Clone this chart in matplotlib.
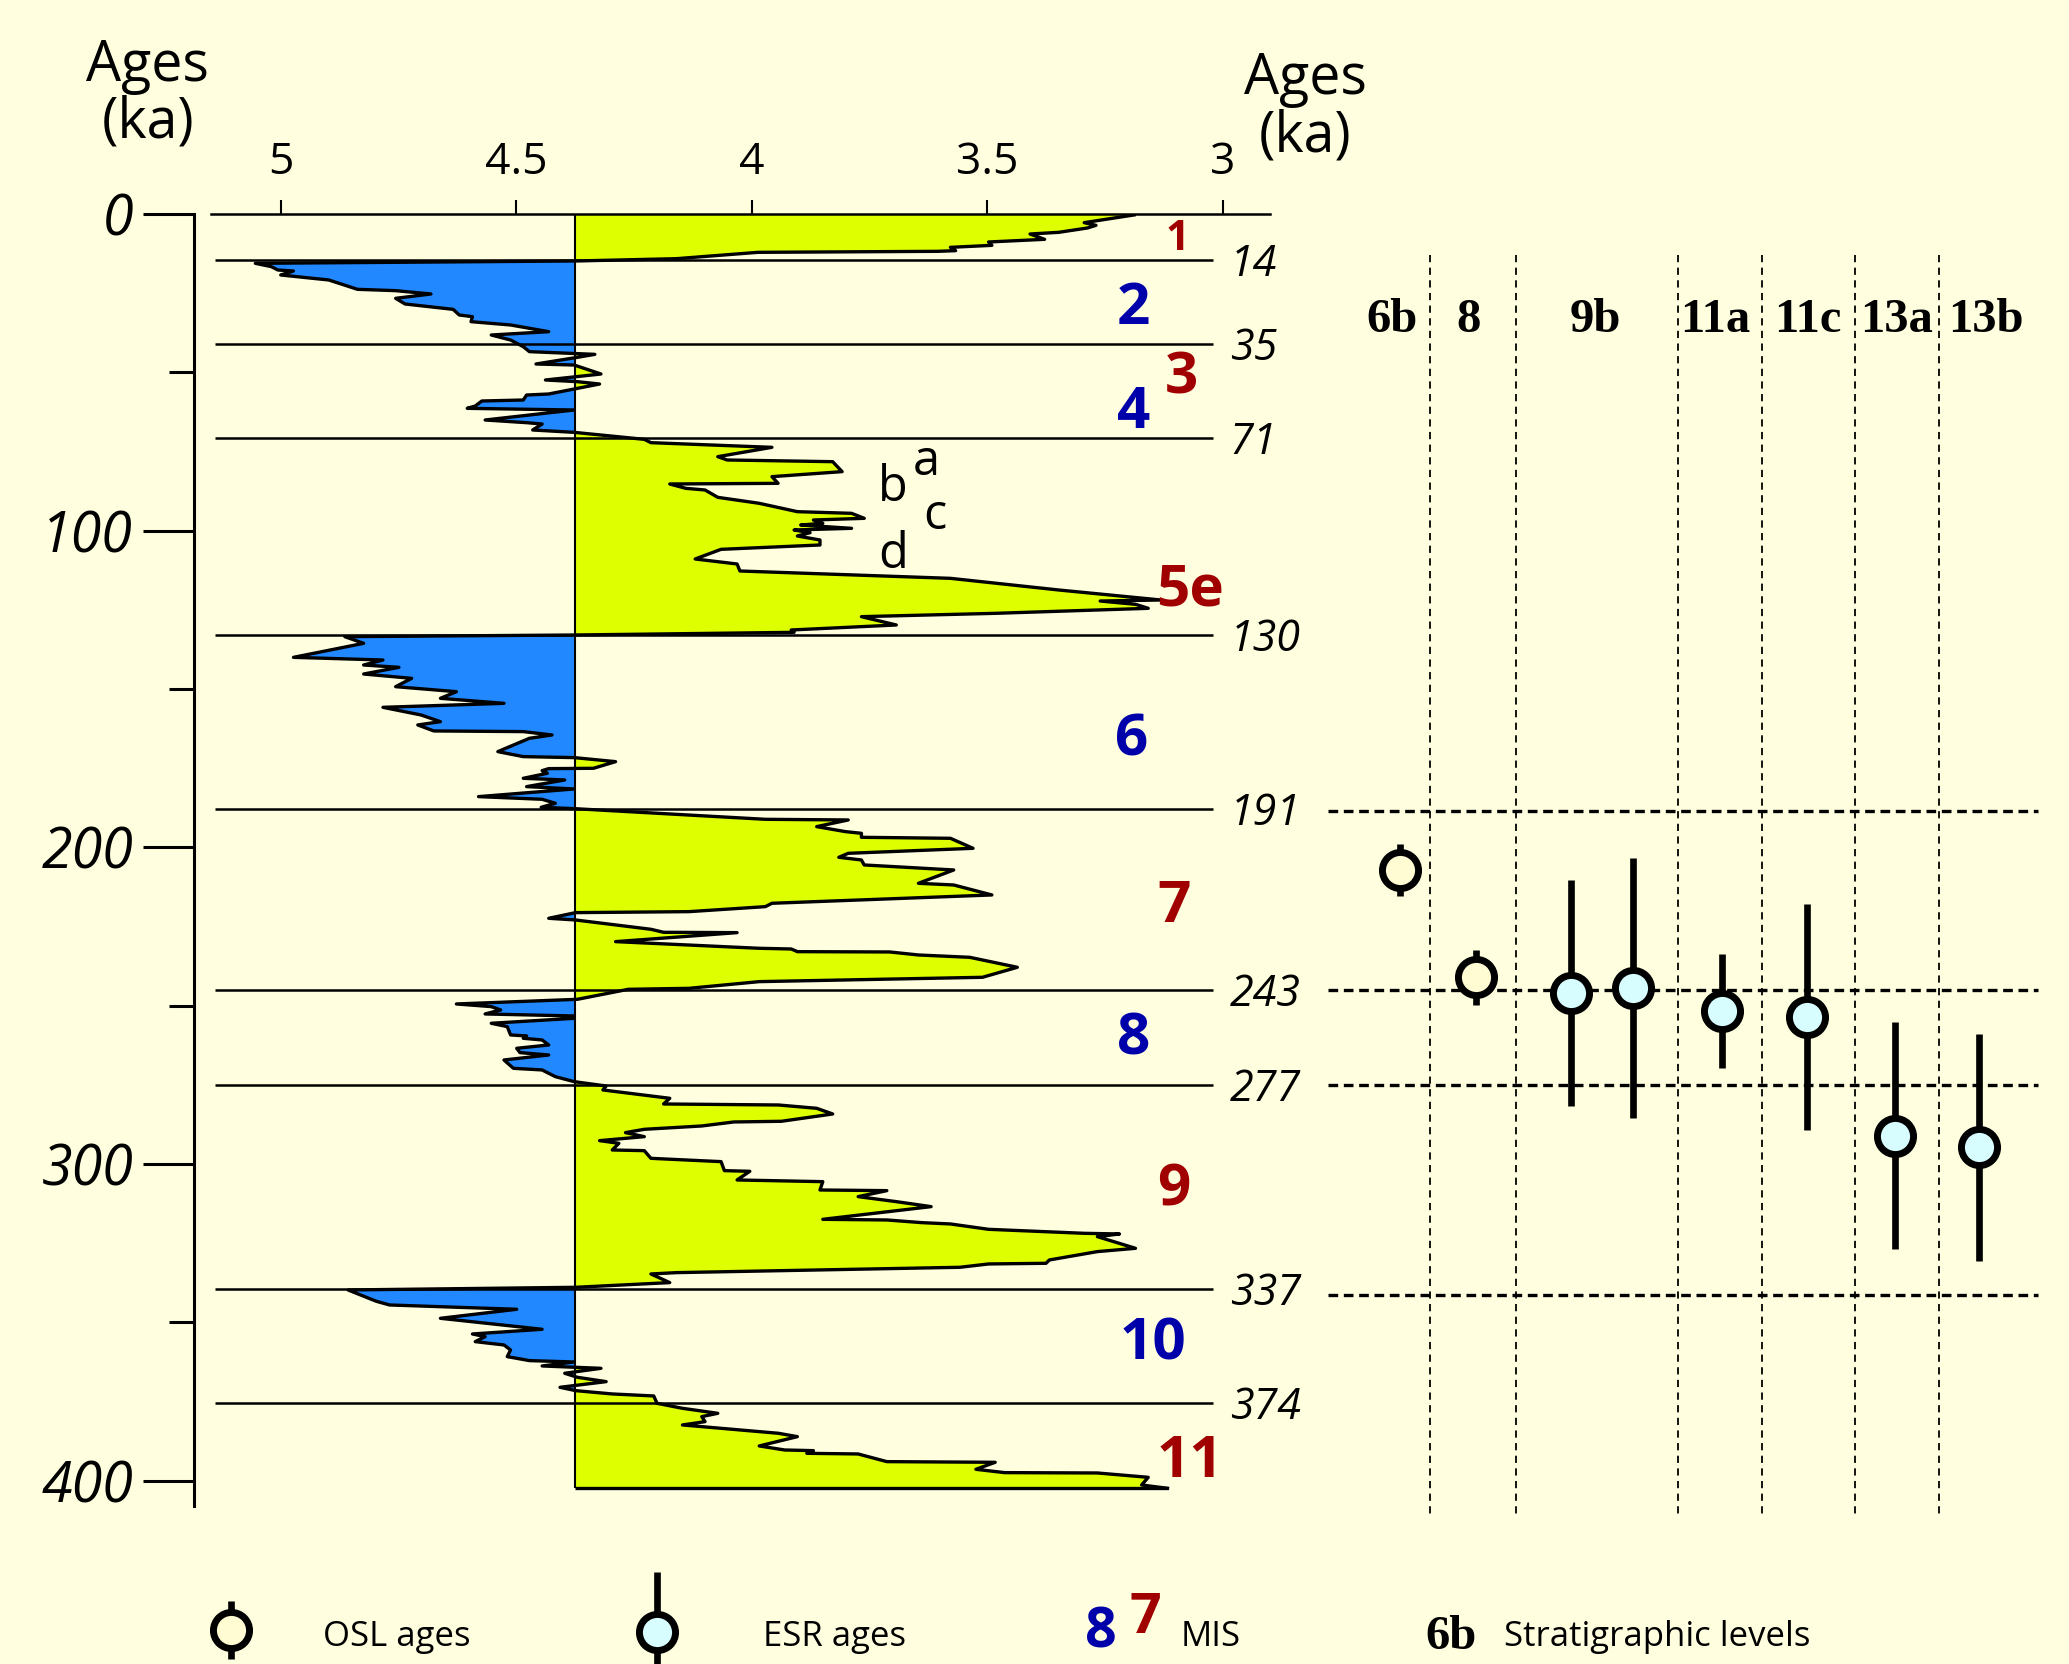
# benthic d18O stack (MIS 1-11) with OSL / ESR ages of the stratigraphic levels
import numpy as np
import matplotlib.pyplot as plt
from matplotlib.ticker import MultipleLocator

plt.rcParams['font.family'] = ['Open Sans', 'DejaVu Sans']

BG = '#ffffe0'
YELLOW = '#ddff00'
BLUE = '#2288ff'
RED = '#a00000'
NAVY = '#0000aa'
OSL_FACE = '#fffbd2'
ESR_FACE = '#d8fdff'

# curve: age (ka) and d18O (permil)
age = [0.3, 2.74, 3.58, 4.42, 5.79, 6.32, 8.00, 8.32, 8.84, 9.90, 10.53, 11.58, 11.79, 12.11, 14.11, 14.84,
       15.58, 16.63, 17.69, 18.0, 19.26, 20.84, 23.79, 24.21, 25.26, 26.63, 28.42, 30.11, 31.89, 32.42, 34.0,
       35.05, 37.16, 38.21, 39.79, 41.9, 43.47, 44.32, 45.26, 47.37, 47.69, 50.53, 52.42, 52.95, 53.69, 55.05,
       56.84, 57.16, 58.74, 59.05, 60.63, 61.37, 61.89, 65.05, 65.9, 66.32, 68.21, 68.95,
       71.16, 72.21, 73.68, 76.63, 77.68, 78.21, 81.36, 82.94, 85.05, 85.26, 86.63, 87.15, 89.47, 91.36, 94.0,
       94.52, 96.1, 96.63, 97.68, 98.21, 99.26, 99.78, 100.63, 101.68, 102.94, 104.52, 105.89, 108.94, 110.52,
       112.73, 115.05, 118.73, 121.89, 122.21, 123.26, 124.52, 126.1, 127.15, 129.78, 131.36, 132.1, 132.94,
       133.47, 135.57, 140.0, 140.84, 142.42, 143.15, 145.26, 146.63, 149.26, 150.84, 152.94, 154.52, 155.78,
       158.2, 160.31, 161.35, 163.24, 163.45, 164.51, 165.56, 169.77, 171.35, 171.66, 172.93, 175.03, 175.14,
       175.77, 176.61, 178.19, 178.72, 180.82, 181.56, 183.98, 184.82, 186.08, 187.35, 187.77,
       191.14, 191.35, 193.45, 195.03, 195.56, 196.82, 197.14, 200.3, 201.88, 203.14, 203.98, 205.56, 207.14,
       211.35, 211.88, 215.03, 217.66, 218.72, 220.3, 220.61, 222.4, 222.93, 225.87, 226.82, 226.93, 229.77,
       231.87, 232.09, 232.93, 233.03, 233.98, 234.72, 237.87, 241.03, 242.4, 244.51, 244.82, 247.98,
       249.45, 250.29, 251.34, 252.61, 253.24, 253.98, 255.55, 256.61, 259.24, 259.55, 260.29, 260.82, 262.4,
       263.45, 264.82, 265.56, 267.14, 269.77, 270.29, 272.4, 273.98,
       275.35, 276.61, 279.24, 281.03, 281.35, 282.4, 284.19, 286.5, 286.71, 287.98, 289.03, 290.08, 291.35,
       292.61, 293.45, 295.56, 295.77, 298.19, 299.24, 302.08, 302.29, 305.03, 305.56, 308.19, 308.4, 310.29,
       311.87, 313.45, 317.45, 317.66, 318.5, 318.92, 320.61, 321.87, 322.08, 322.92, 326.61, 327.65, 330.29,
       331.34, 331.55, 332.6, 334.29, 334.71, 337.44, 338.92,
       339.76, 343.34, 344.5, 345.86, 348.71, 352.18, 353.66, 354.5, 356.08, 357.13, 358.71, 360.81, 362.07,
       362.5, 363.76, 364.5, 366.07, 367.34, 368.71, 370.5, 371.55,
       372.6, 373.23, 375.55, 377.13, 378.71, 379.76, 381.34, 382.39, 385.02, 386.08, 389.02, 390.29, 390.5,
       391.34, 391.55, 393.97, 394.07, 394.18, 396.39, 397.44, 397.55, 398.92, 401.34, 402.39]
d18o = [3.188, 3.294, 3.269, 3.287, 3.348, 3.409, 3.378, 3.422, 3.497, 3.490, 3.578, 3.567, 3.605, 3.987, 4.160, 4.374,
        5.054, 5.020, 5.006, 4.973, 5.000, 4.898, 4.837, 4.756, 4.681, 4.756, 4.736, 4.634, 4.621, 4.593, 4.596,
        4.512, 4.431, 4.553, 4.512, 4.485, 4.472, 4.333, 4.370, 4.458, 4.377, 4.320, 4.438, 4.370, 4.323, 4.370,
        4.431, 4.478, 4.485, 4.573, 4.587, 4.604, 4.377, 4.566, 4.478, 4.445, 4.465, 4.377,
        4.228, 4.214, 3.957, 4.072, 4.052, 3.828, 3.808, 3.957, 3.944, 4.174, 4.140, 4.099, 4.072, 3.984, 3.903,
        3.788, 3.761, 3.869, 3.849, 3.896, 3.788, 3.910, 3.876, 3.903, 3.855, 3.855, 4.065, 4.120, 4.031,
        4.025, 3.578, 3.348, 3.131, 3.260, 3.185, 3.158, 3.483, 3.767, 3.693, 3.916, 3.910, 4.374,
        4.864, 4.824, 4.973, 4.783, 4.824, 4.749, 4.824, 4.722, 4.756, 4.627, 4.661, 4.526, 4.783,
        4.702, 4.661, 4.709, 4.675, 4.485, 4.424, 4.472, 4.539, 4.485, 4.377, 4.289, 4.336, 4.431,
        4.445, 4.434, 4.485, 4.397, 4.478, 4.377, 4.580, 4.445, 4.417, 4.447, 4.377,
        3.971, 3.795, 3.862, 3.801, 3.767, 3.767, 3.578, 3.530, 3.795, 3.815, 3.767, 3.761, 3.571,
        3.646, 3.571, 3.490, 3.957, 3.971, 4.133, 4.374, 4.431, 4.374, 4.214, 4.187, 4.031, 4.289,
        3.984, 3.916, 3.903, 3.707, 3.646, 3.537, 3.436, 3.510, 3.984, 4.133, 4.262, 4.370,
        4.627, 4.553, 4.533, 4.566, 4.377, 4.377, 4.553, 4.519, 4.512, 4.478, 4.485, 4.445, 4.431,
        4.499, 4.492, 4.431, 4.526, 4.506, 4.445, 4.417, 4.377,
        4.309, 4.316, 4.174, 4.187, 3.943, 3.862, 3.828, 3.937, 4.038, 4.106, 4.228, 4.268, 4.228,
        4.323, 4.282, 4.296, 4.228, 4.214, 4.065, 4.058, 4.004, 4.031, 3.849, 3.855, 3.713, 3.774,
        3.693, 3.619, 3.849, 3.713, 3.639, 3.578, 3.497, 3.294, 3.219, 3.266, 3.185, 3.266, 3.368,
        3.375, 3.497, 3.558, 4.160, 4.214, 4.174, 4.374,
        4.857, 4.797, 4.769, 4.499, 4.661, 4.445, 4.593, 4.566, 4.587, 4.526, 4.512, 4.519, 4.472,
        4.377, 4.445, 4.320, 4.397, 4.370, 4.309, 4.407, 4.374,
        4.296, 4.208, 4.201, 4.147, 4.072, 4.106, 4.099, 4.147, 3.943, 3.903, 3.984, 3.930, 3.869,
        3.883, 3.774, 3.713, 3.619, 3.483, 3.524, 3.463, 3.266, 3.158, 3.172, 3.117]
baseline = 4.375

boundary_age = [14.5, 41.2, 70.6, 133, 188, 245, 275, 339.5, 375.5]
boundary_lbl = ['14', '35', '71', '130', '191', '243', '277', '337', '374']

mis_lbl = ['1', '2', '3', '4', '5e', '6', '7', '8', '9', '10', '11']
mis_age = [8.2, 30.1, 51.8, 62.7, 118.9, 166.1, 218.7, 260.6, 308.2, 357.1, 394.0]
mis_x = [3.096, 3.190, 3.087, 3.190, 3.070, 3.193, 3.104, 3.190, 3.104, 3.149, 3.070]
mis_col = [RED, NAVY, RED, NAVY, RED, NAVY, RED, NAVY, RED, NAVY, RED]

sub_lbl = ['a', 'b', 'c', 'd']
sub_age = [78.5, 86.5, 95.6, 107.7]
sub_x = [3.63, 3.70, 3.61, 3.70]

levels = ['6b', '8', '9b', '11a', '11c', '13a', '13b']
level_x = [0.086, 0.190, 0.360, 0.523, 0.647, 0.767, 0.888]
level_sep = [0.138, 0.254, 0.472, 0.586, 0.711, 0.824]
dash_age = [188.5, 245, 275, 341.5]

osl_x = [0.097, 0.200]
osl_age = [207.1, 241.0]
osl_err = [8.3, 8.7]
esr_x = [0.328, 0.412, 0.532, 0.647, 0.765, 0.879]
esr_age = [246.0, 244.4, 251.7, 253.6, 291.0, 294.7]
esr_err = [35.7, 41.0, 18.0, 35.6, 35.8, 35.8]

fig = plt.figure(figsize=(20.69, 16.64), dpi=100, facecolor=BG)

# ---- isotope curve ----
ax = fig.add_axes([0.102, 0.0873, 0.5117, 0.7841])
ax.set_facecolor('none')
ax.set_xlim(5.148, 2.90)
ax.set_ylim(412, 0)

a = np.array(age)
v = np.array(d18o)
ax.fill_betweenx(a, v, baseline, where=v <= baseline, interpolate=True, color=YELLOW, lw=0)
ax.fill_betweenx(a, v, baseline, where=v >= baseline, interpolate=True, color=BLUE, lw=0)
ax.hlines(boundary_age, 5.14, 3.02, colors='k', lw=1.8, zorder=3)
ax.vlines(baseline, 0, a[-1], colors='k', lw=1.5, zorder=3)
ax.hlines(a[-1], baseline, v[-1], colors='k', lw=2.4, zorder=4)
ax.plot(v, a, color='k', lw=2.4, zorder=4)

for yb, lb in zip(boundary_age, boundary_lbl):
    ax.text(2.985, yb + 1.5, lb, ha='left', va='center', fontsize=31, style='italic', clip_on=False)
for lb, y, x, c in zip(mis_lbl, mis_age, mis_x, mis_col):
    ax.text(x, y, lb, ha='center', va='center', color=c, fontweight='bold',
            fontsize=30 if lb == '1' else 42, zorder=5)
for lb, y, x in zip(sub_lbl, sub_age, sub_x):
    ax.text(x, y, lb, ha='center', va='center', fontsize=35)

for s in ['right', 'bottom']:
    ax.spines[s].set_visible(False)
ax.spines['top'].set_linewidth(1.8)
ax.spines['left'].set_position(('outward', 12))
ax.spines['left'].set_bounds(0, 408)
ax.spines['left'].set_linewidth(2.2)

ax.xaxis.tick_top()
ax.set_xticks([5, 4.5, 4, 3.5, 3])
ax.set_xticklabels(['5', '4.5', '4', '3.5', '3'])
ax.tick_params(axis='x', direction='out', length=10, width=1.5, pad=11, labelsize=32)
ax.set_yticks([0, 100, 200, 300, 400])
ax.set_yticklabels(['0', '100', '200', '300', '400'], fontstyle='italic')
ax.yaxis.set_minor_locator(MultipleLocator(50))
ax.tick_params(axis='y', which='major', length=37, width=2.2, pad=7, labelsize=40)
ax.tick_params(axis='y', which='minor', length=18, width=2.2)

fig.text(0.0715, 0.943, 'Ages\n(ka)', ha='center', va='center', fontsize=40, linespacing=1.0)
fig.text(0.631, 0.935, 'Ages\n(ka)', ha='center', va='center', fontsize=40, linespacing=1.0)

# ---- ages of the stratigraphic levels ----
ax2 = fig.add_axes([0.6419, 0.0873, 0.3581, 0.7841], sharey=ax)
ax2.set_xlim(0, 1)
ax2.axis('off')
ax2.vlines(level_sep, 13, 410.5, colors='k', lw=1.3, linestyles=(0, (4, 3)))
ax2.hlines(dash_age, 0, 0.958, colors='k', lw=2.4, linestyles=(0, (2.9, 1.7)))
for x, lb in zip(level_x, levels):
    ax2.text(x, 33.5, lb, ha='center', va='center', family='Liberation Serif',
             fontweight='bold', fontsize=35)
mk = dict(fmt='o', ms=26, mec='k', mew=5, ecolor='k', elinewidth=4.8, capsize=0, zorder=4)
ax2.errorbar(osl_x, osl_age, yerr=osl_err, mfc=OSL_FACE, **mk)
ax2.errorbar(esr_x, esr_age, yerr=esr_err, mfc=ESR_FACE, **mk)

# ---- legend strip ----
ax3 = fig.add_axes([0, 0, 1, 0.0601])
ax3.set_xlim(0, 1)
ax3.set_ylim(0, 1)
ax3.axis('off')
ax3.errorbar([0.1117], [0.34], yerr=[0.29], mfc=OSL_FACE, **mk)
ax3.errorbar([0.3175], [0.32], yerr=[0.6], mfc=ESR_FACE, **mk)
ax3.text(0.156, 0.265, 'OSL ages', ha='left', va='center', fontsize=25)
ax3.text(0.3688, 0.265, 'ESR ages', ha='left', va='center', fontsize=25)
ax3.text(0.532, 0.03, '8', ha='center', va='bottom', color=NAVY, fontweight='bold', fontsize=40)
ax3.text(0.5534, 0.45, '7', ha='center', va='center', color=RED, fontweight='bold', fontsize=40)
ax3.text(0.5708, 0.265, 'MIS', ha='left', va='center', fontsize=25)
ax3.text(0.7013, 0.27, '6b', ha='center', va='center', family='Liberation Serif',
         fontweight='bold', fontsize=35)
ax3.text(0.727, 0.265, 'Stratigraphic levels', ha='left', va='center', fontsize=25)

fig.savefig('out.png', dpi=100, facecolor=BG)
